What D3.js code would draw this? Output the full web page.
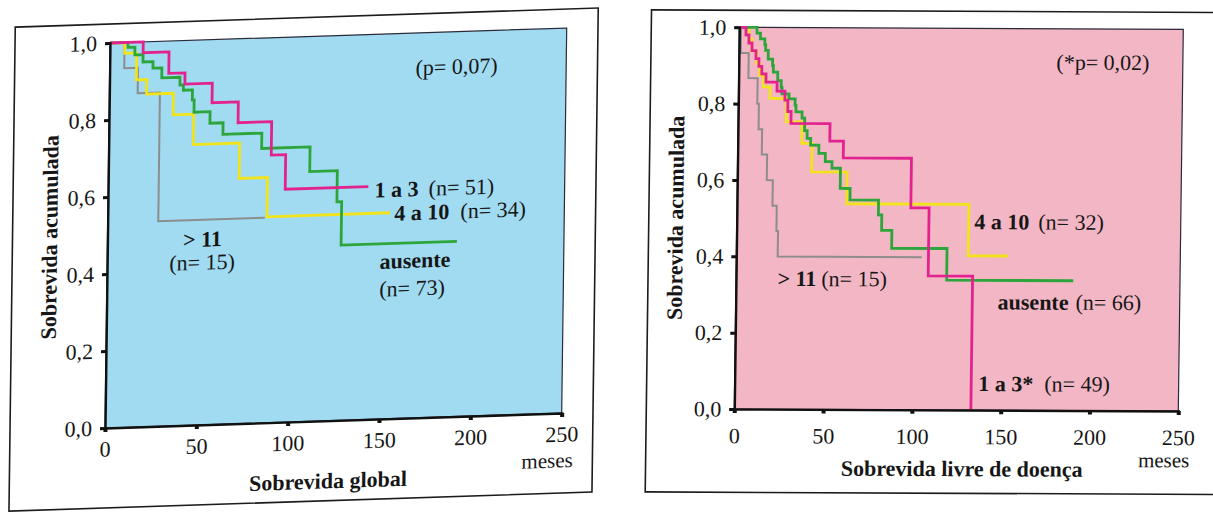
<!DOCTYPE html>
<html>
<head>
<meta charset="utf-8">
<script src="https://cdn.jsdelivr.net/npm/d3@7"></script>
<style>
  html, body { margin: 0; padding: 0; background: #fff; }
  svg { display: block; }
  text { font-family: "Liberation Serif", "Times New Roman", serif; fill: #161616; }
</style>
</head>
<body>
<svg id="chart" width="1213" height="513"></svg>
<script>
// Axis ticks: follow-up in months and cumulative survival
const monthTicks = [0, 50, 100, 150, 200, 250];
const survivalTicks = [0, 0.2, 0.4, 0.6, 0.8, 1.0];

// Overall survival (Kaplan–Meier steps: [month, cumulative survival])
const global1to3   = [[0,1],[18.2,0.972],[32.4,0.916],[41.3,0.887],[56.3,0.836],[70.7,0.782],[89.1,0.695],[97,0.605],[142.5,0.605]];
const globalNone   = [[0,1],[9.9,0.987],[13.7,0.967],[18.2,0.948],[23.7,0.931],[28.6,0.905],[38.6,0.885],[40.5,0.871],[45.5,0.845],[46.5,0.813],[55.3,0.783],[62.5,0.753],[83.8,0.713],[110.3,0.649],[125.4,0.568],[128,0.455],[191.4,0.455]];
const global4to10  = [[0,1],[8.2,0.972],[14.7,0.902],[20.4,0.864],[35.1,0.808],[46.3,0.729],[71.7,0.637],[87.2,0.535],[154.6,0.535]];
const globalOver11 = [[0,1],[8,0.933],[15.5,0.867],[27.7,0.533],[86,0.533]];

// Disease-free survival
const dfs1to3   = [[0,1],[3.8,0.98],[5.5,0.959],[7.3,0.939],[9.6,0.918],[11.3,0.898],[13,0.878],[15.4,0.857],[21.7,0.833],[26.2,0.81],[27.9,0.78],[29.8,0.749],[51.8,0.703],[59.5,0.659],[97.9,0.529],[108.2,0.351],[133.2,0]];
const dfsNone   = [[0,1],[10,0.985],[12,0.97],[14.5,0.955],[15,0.94],[16.5,0.917],[19,0.9],[19.5,0.883],[22,0.861],[24,0.843],[24.5,0.826],[28.5,0.813],[32,0.796],[32.5,0.779],[36,0.763],[37.5,0.73],[39,0.71],[41,0.692],[45.7,0.671],[49.4,0.649],[53.2,0.632],[58,0.579],[63.6,0.549],[79.7,0.51],[81.6,0.47],[87.4,0.423],[118.6,0.34],[189.9,0.34]];
const dfs4to10  = [[0,1],[5.5,0.969],[7.2,0.938],[10,0.906],[11.7,0.875],[14,0.844],[17.8,0.814],[27.2,0.753],[36,0.697],[41.8,0.622],[61.8,0.539],[130.6,0.404],[153.1,0.404]];
const dfsOver11 = [[0,1],[1,0.933],[5.5,0.867],[10.7,0.8],[11.6,0.733],[13.6,0.667],[16.6,0.6],[20,0.533],[22.4,0.467],[23.3,0.4],[104.4,0.4]];

// Group labels: [bold part, count part]
const globalLabels = [
  { t: 146,   s: 0.596, bold: "1 a 3",  plain: "(n= 51)", gap: 10 },
  { t: 157,   s: 0.534, bold: "4 a 10", plain: "(n= 34)", gap: 11 },
  { t: 52,    s: 0.483, bold: "> 11",   plain: "", anchor: "middle" },
  { t: 52,    s: 0.423, bold: "",       plain: "(n= 15)", anchor: "middle" },
  { t: 168.6, s: 0.41,  bold: "ausente", plain: "", anchor: "middle" },
  { t: 167.2, s: 0.338, bold: "",       plain: "(n= 73)", anchor: "middle" },
  { t: 190,   s: 0.91,  bold: "",       plain: "(p= 0,07)", anchor: "middle" }
];
const dfsLabels = [
  { t: 133.8, s: 0.494, bold: "4 a 10",  plain: "(n= 32)", gap: 9 },
  { t: 23.4,  s: 0.343, bold: "> 11",    plain: "(n= 15)", gap: 5 },
  { t: 147.5, s: 0.284, bold: "ausente", plain: "(n= 66)", gap: 7 },
  { t: 137.2, s: 0.07,  bold: "1 a 3*",  plain: "(n= 49)", gap: 11 },
  { t: 205,   s: 0.913, bold: "",        plain: "(*p= 0,02)", anchor: "middle" }
];

const colors = { none: "#2ca63a", a13: "#e2238f", a410: "#f2e41c", over11: "#8d8d8d" };

const panels = [
  {
    matrix: [1, -0.0328, -0.013, 1, 110, 43], w: 456.7, h: 385,
    bg: "#a1dbf1",
    frame: { x: -95, y: -19, w: 583, h: 484 },
    title: "Sobrevida global", titleT: 122.5, titleDy: 60,
    yTitleX: -58, tickDy: 21, mesesDy: 47,
    series: [
      { data: globalOver11, color: colors.over11, width: 2 },
      { data: global4to10, color: colors.a410, width: 2.8 },
      { data: globalNone, color: colors.none, width: 2.8 },
      { data: global1to3, color: colors.a13, width: 2.8 }
    ],
    labels: globalLabels
  },
  {
    matrix: [1, 0.0045, -0.0131, 1, 739.3, 27.3], w: 444, h: 381.7,
    bg: "#f3b6c5",
    frame: { x: -88, y: -17, w: 700, h: 482 },
    title: "Sobrevida livre de doença", titleT: 128.5, titleDy: 58.5,
    yTitleX: -61.5, tickDy: 26.5, mesesDy: 49,
    series: [
      { data: dfsOver11, color: colors.over11, width: 2 },
      { data: dfs4to10, color: colors.a410, width: 2.8 },
      { data: dfsNone, color: colors.none, width: 2.8 },
      { data: dfs1to3, color: colors.a13, width: 2.8 }
    ],
    labels: dfsLabels
  }
];

const svg = d3.select("#chart");
const fmt = d => d3.format(".1f")(d).replace(".", ",");

panels.forEach(p => {
  const g = svg.append("g").attr("transform", `matrix(${p.matrix.join(",")})`);
  const x = d3.scaleLinear().domain([0, 250]).range([0, p.w]);
  const y = d3.scaleLinear().domain([0, 1]).range([p.h, 0]);

  // outer box around the figure
  g.append("rect")
    .attr("x", p.frame.x).attr("y", p.frame.y)
    .attr("width", p.frame.w).attr("height", p.frame.h)
    .attr("fill", "none").attr("stroke", "#1c1c1c").attr("stroke-width", 1.6);

  // plot background with thin border
  g.append("rect")
    .attr("x", 0).attr("y", 0).attr("width", p.w).attr("height", p.h)
    .attr("fill", p.bg).attr("stroke", "#2a2a3a").attr("stroke-width", 1.2);

  // survival curves
  const line = d3.line().x(d => x(d[0])).y(d => y(d[1])).curve(d3.curveStepAfter);
  p.series.forEach(s => {
    g.append("path").datum(s.data)
      .attr("d", line)
      .attr("fill", "none")
      .attr("stroke", s.color)
      .attr("stroke-width", s.width)
      .attr("stroke-linejoin", "miter");
  });

  // y axis
  const yAxis = g.append("g")
    .call(d3.axisLeft(y).tickValues(survivalTicks).tickFormat(fmt).tickSize(5).tickPadding(8));
  yAxis.attr("font-family", null);
  yAxis.select(".domain").attr("stroke", "#111").attr("stroke-width", 2.4);
  yAxis.selectAll(".tick line").attr("stroke", "#111").attr("stroke-width", 3);
  yAxis.selectAll(".tick text")
    .attr("font-size", 22).attr("fill", "#161616");

  // x axis
  const xAxis = g.append("g").attr("transform", `translate(0,${p.h})`)
    .call(d3.axisBottom(x).tickValues(monthTicks).tickFormat(d3.format("d")).tickSize(4).tickPadding(0));
  xAxis.attr("font-family", null);
  xAxis.select(".domain").attr("stroke", "#111").attr("stroke-width", 2.4);
  xAxis.selectAll(".tick line").attr("stroke", "#111").attr("stroke-width", 4);
  xAxis.selectAll(".tick text")
    .attr("font-size", 22).attr("fill", "#161616")
    .attr("y", p.tickDy).attr("dy", "0.35em");

  // axis titles
  g.append("text")
    .attr("x", x(p.titleT)).attr("y", p.h + p.titleDy).attr("dy", "0.35em")
    .attr("text-anchor", "middle").attr("font-weight", "bold").attr("font-size", 22)
    .text(p.title);
  g.append("text")
    .attr("x", x(250) - 14).attr("y", p.h + p.mesesDy).attr("dy", "0.35em")
    .attr("text-anchor", "middle").attr("font-size", 21)
    .text("meses");
  g.append("text")
    .attr("transform", `translate(${p.yTitleX},${y(0.5)}) rotate(-90)`)
    .attr("dy", "0.35em")
    .attr("text-anchor", "middle").attr("font-weight", "bold").attr("font-size", 22)
    .text("Sobrevida acumulada");

  // group labels
  p.labels.forEach(l => {
    const t = g.append("text")
      .attr("x", x(l.t)).attr("y", y(l.s)).attr("dy", "0.35em")
      .attr("text-anchor", l.anchor || "start").attr("font-size", 22);
    if (l.bold) t.append("tspan").attr("font-weight", "bold").text(l.bold);
    if (l.plain) {
      const ts = t.append("tspan").text(l.plain);
      if (l.bold) ts.attr("dx", l.gap);
    }
  });
});
</script>
</body>
</html>
